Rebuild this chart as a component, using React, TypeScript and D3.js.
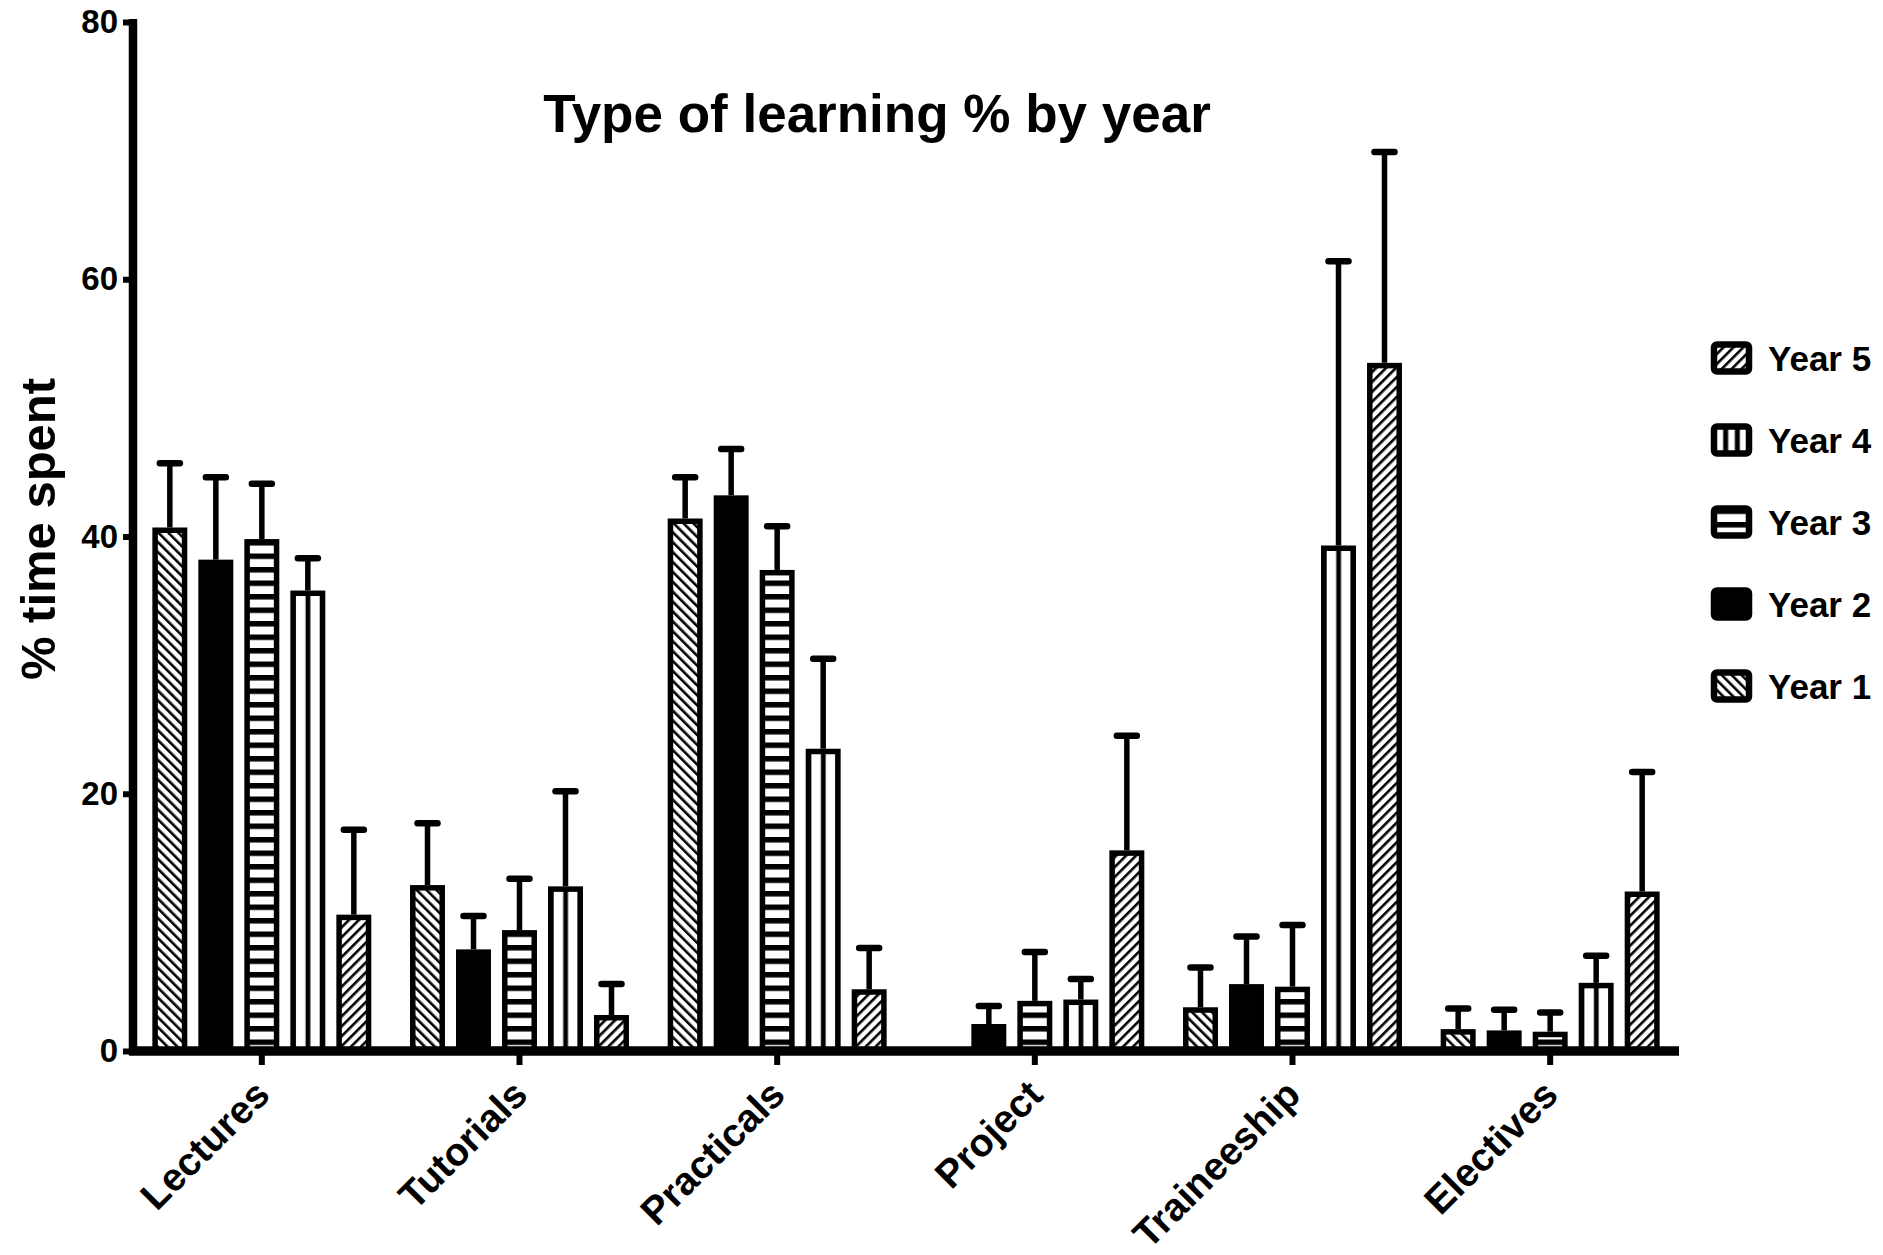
import React, { useRef, useEffect } from "react";
import * as d3 from "d3";

const categories = ["Lectures", "Tutorials", "Practicals", "Project", "Traineeship", "Electives"];
const years = ["Year 1", "Year 2", "Year 3", "Year 4", "Year 5"];

// mean % per category, one array per year
const year1Mean = [40.7, 12.9, 41.4, 0, 3.4, 1.7];
const year2Mean = [38.2, 7.9, 43.2, 2.1, 5.2, 1.6];
const year3Mean = [39.8, 9.4, 37.4, 3.9, 5.0, 1.5];
const year4Mean = [35.8, 12.8, 23.5, 4.0, 39.3, 5.3];
const year5Mean = [10.6, 2.8, 4.8, 15.6, 53.5, 12.4];

// upper error (SD)
const year1Err = [5.0, 4.8, 3.2, 0, 3.1, 1.6];
const year2Err = [6.4, 2.6, 3.6, 1.4, 3.7, 1.6];
const year3Err = [4.3, 4.0, 3.4, 3.8, 4.8, 1.5];
const year4Err = [2.5, 7.4, 7.0, 1.6, 22.1, 2.1];
const year5Err = [6.6, 2.4, 3.2, 8.9, 16.4, 9.3];

const yTicks = [0, 20, 40, 60, 80];
const legendOrder = ["Year 5", "Year 4", "Year 3", "Year 2", "Year 1"];

const means = [year1Mean, year2Mean, year3Mean, year4Mean, year5Mean];
const errs = [year1Err, year2Err, year3Err, year4Err, year5Err];

const WIDTH = 1883;
const HEIGHT = 1255;
const FONT = "'Liberation Sans', Arial, Helvetica, sans-serif";

const App = () => {
  const svgRef = useRef(null);

  useEffect(() => {
    document.body.style.margin = "0";
    const svg = d3.select(svgRef.current);
    svg.selectAll("*").remove();

    const left = 133;
    const right = 1679;
    const bottom = 1051;
    const top = 22;

    const x = d3.scaleBand().domain(categories).range([left, right]).padding(0);
    const inner = d3
      .scaleBand()
      .domain(years)
      .range([-115, 115])
      .paddingInner(0.24)
      .paddingOuter(0.12);
    const y = d3.scaleLinear().domain([0, 80]).range([bottom, top]);
    const bw = inner.bandwidth();

    // patterns
    const defs = svg.append("defs");
    const hatch = (id, angle, size, sw) => {
      const p = defs
        .append("pattern")
        .attr("id", id)
        .attr("patternUnits", "userSpaceOnUse")
        .attr("width", size)
        .attr("height", size)
        .attr("patternTransform", `rotate(${angle})`);
      p.append("rect").attr("width", size).attr("height", size).attr("fill", "#fff");
      p.append("rect").attr("x", 0).attr("y", 0).attr("width", sw).attr("height", size).attr("fill", "#000");
    };
    hatch("p1", -45, 7, 2.6);
    hatch("p5", 45, 7, 2.6);

    const horiz = defs
      .append("pattern")
      .attr("id", "p3")
      .attr("patternUnits", "userSpaceOnUse")
      .attr("width", 10)
      .attr("height", 13.5);
    horiz.append("rect").attr("width", 10).attr("height", 13.5).attr("fill", "#fff");
    horiz.append("rect").attr("width", 10).attr("height", 5.5).attr("fill", "#000");

    const vert = (id, frac, tileW) => {
      const p = defs
        .append("pattern")
        .attr("id", id)
        .attr("patternUnits", "objectBoundingBox")
        .attr("patternContentUnits", "userSpaceOnUse")
        .attr("width", frac)
        .attr("height", 1);
      p.append("rect").attr("width", tileW).attr("height", 2000).attr("fill", "#fff");
      p.append("rect").attr("x", 0).attr("width", 2.5).attr("height", 2000).attr("fill", "#000");
      p.append("rect").attr("x", tileW - 2.5).attr("width", 2.5).attr("height", 2000).attr("fill", "#000");
    };
    vert("p4", 0.5, (bw - 5) / 2);
    vert("p4legend", 1 / 3, 35 / 3);

    const fills = ["url(#p1)", "#000", "url(#p3)", "url(#p4)", "url(#p5)"];
    const legendFills = {
      "Year 1": "url(#p1)",
      "Year 2": "#000",
      "Year 3": "url(#p3)",
      "Year 4": "url(#p4legend)",
      "Year 5": "url(#p5)",
    };

    // bars + error bars
    years.forEach((yr, yi) => {
      categories.forEach((cat, ci) => {
        const v = means[yi][ci];
        const e = errs[yi][ci];
        if (v <= 0) return;
        const cx = x(cat) + x.bandwidth() / 2 + inner(yr);
        const mid = cx + bw / 2;
        if (e > 0) {
          svg
            .append("line")
            .attr("x1", mid)
            .attr("x2", mid)
            .attr("y1", y(v))
            .attr("y2", y(v + e))
            .attr("stroke", "#000")
            .attr("stroke-width", 5.5);
          svg
            .append("line")
            .attr("x1", mid - 10)
            .attr("x2", mid + 10)
            .attr("y1", y(v + e))
            .attr("y2", y(v + e))
            .attr("stroke", "#000")
            .attr("stroke-width", 6.5)
            .attr("stroke-linecap", "round");
        }
        svg
          .append("rect")
          .attr("x", cx + 2.75)
          .attr("y", y(v) + 2.75)
          .attr("width", bw - 5.5)
          .attr("height", Math.max(0, bottom - y(v) - 2.75))
          .attr("fill", fills[yi])
          .attr("stroke", "#000")
          .attr("stroke-width", 5.5);
      });
    });

    // y axis
    const yAxis = svg
      .append("g")
      .attr("transform", `translate(${left},0)`)
      .call(d3.axisLeft(y).tickValues(yTicks).tickSize(10).tickPadding(5).tickFormat(d3.format("d")));
    yAxis.select(".domain").remove();
    yAxis.selectAll(".tick line").attr("stroke", "#000").attr("stroke-width", 6);
    yAxis
      .selectAll(".tick text")
      .attr("fill", "#000")
      .style("font-family", FONT)
      .style("font-weight", "bold")
      .style("font-size", "33px");
    svg
      .append("line")
      .attr("x1", left)
      .attr("x2", left)
      .attr("y1", top - 3)
      .attr("y2", bottom + 4)
      .attr("stroke", "#000")
      .attr("stroke-width", 8.5);

    // x axis
    const xAxis = svg
      .append("g")
      .attr("transform", `translate(0,${bottom})`)
      .call(d3.axisBottom(x).tickSize(14).tickFormat(() => ""));
    xAxis.select(".domain").remove();
    xAxis.selectAll(".tick line").attr("stroke", "#000").attr("stroke-width", 6);
    svg
      .append("line")
      .attr("x1", left - 4)
      .attr("x2", right)
      .attr("y1", bottom)
      .attr("y2", bottom)
      .attr("stroke", "#000")
      .attr("stroke-width", 9.5);

    svg
      .append("g")
      .selectAll("text")
      .data(categories)
      .join("text")
      .attr("transform", (d) => `translate(${x(d) + x.bandwidth() / 2 + 10},${bottom + 46}) rotate(-45)`)
      .attr("text-anchor", "end")
      .style("font-family", FONT)
      .style("font-weight", "bold")
      .style("font-size", "39px")
      .text((d) => d);

    // title
    svg
      .append("text")
      .attr("x", 877)
      .attr("y", 132)
      .attr("text-anchor", "middle")
      .style("font-family", FONT)
      .style("font-weight", "bold")
      .style("font-size", "53px")
      .text("Type of learning % by year");

    // y label
    svg
      .append("text")
      .attr("transform", `translate(55,529) rotate(-90)`)
      .attr("text-anchor", "middle")
      .style("font-family", FONT)
      .style("font-weight", "bold")
      .style("font-size", "49px")
      .text("% time spent");

    // legend
    const lg = svg
      .append("g")
      .selectAll("g")
      .data(legendOrder)
      .join("g")
      .attr("transform", (d, i) => `translate(1711,${358 + i * 82})`);
    lg.append("rect")
      .attr("x", 3)
      .attr("y", -13.5)
      .attr("width", 35)
      .attr("height", 27)
      .attr("rx", 3)
      .attr("fill", (d) => legendFills[d])
      .attr("stroke", "#000")
      .attr("stroke-width", 6.5);
    lg.append("text")
      .attr("x", 57)
      .attr("y", 0)
      .attr("dy", "0.36em")
      .style("font-family", FONT)
      .style("font-weight", "bold")
      .style("font-size", "35px")
      .text((d) => d);
  }, []);

  return <svg ref={svgRef} width={WIDTH} height={HEIGHT} style={{ display: "block", background: "#fff" }} />;
};

export default App;
